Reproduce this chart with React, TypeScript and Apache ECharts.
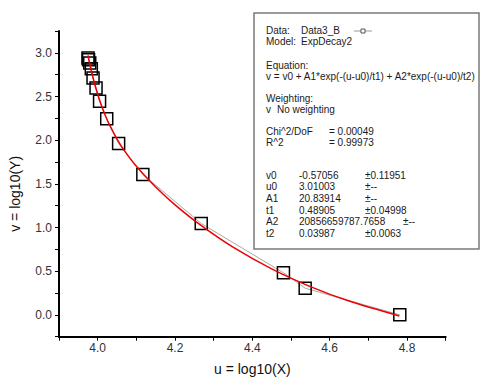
import React, { useEffect, useRef } from "react";
import * as echarts from "echarts";

// measured data points (u = log10(X), v = log10(Y))
const uData = [3.975, 3.9764, 3.9795, 3.9836, 3.988, 3.9958, 4.0049, 4.0234, 4.0542, 4.1168, 4.2678, 4.4804, 4.5366, 4.7813];
const vData = [2.941, 2.922, 2.883, 2.819, 2.712, 2.598, 2.446, 2.246, 1.961, 1.608, 1.046, 0.482, 0.305, 0.0];

// red fitted curve
const fitU = [3.975, 3.98, 3.99, 4.0, 4.01, 4.02, 4.03, 4.05, 4.07, 4.1, 4.15, 4.2, 4.27, 4.35, 4.45, 4.55, 4.65, 4.78];
const fitV = [2.97, 2.864, 2.68, 2.525, 2.394, 2.28, 2.18, 2.013, 1.874, 1.701, 1.463, 1.26, 1.015, 0.775, 0.526, 0.323, 0.158, -0.012];

const xTickLabels = ["4.0", "4.2", "4.4", "4.6", "4.8"];
const yTickLabels = ["0.0", "0.5", "1.0", "1.5", "2.0", "2.5", "3.0"];

const headerLines = [
  ["Data:", "Data3_B"],
  ["Model:", "ExpDecay2"],
];
const equationTitle = "Equation:";
const equationText = "v = v0 + A1*exp(-(u-u0)/t1) + A2*exp(-(u-u0)/t2)";
const weightingTitle = "Weighting:";
const weightingRow = ["v", "No weighting"];
const statNames = ["Chi^2/DoF", "R^2"];
const statValues = ["= 0.00049", "= 0.99973"];
const paramNames = ["v0", "u0", "A1", "t1", "A2", "t2"];
const paramValues = ["-0.57056", "3.01003", "20.83914", "0.48905", "20856659787.7658", "0.03987"];
const paramErrors = ["\u00b10.11951", "\u00b1--", "\u00b1--", "\u00b10.04998", "\u00b1--", "\u00b10.0063"];

const FONT = "'Liberation Sans', Arial, sans-serif";

function txt(text: string, x: number, y: number) {
  return {
    type: "text",
    x,
    y,
    style: { text, fontSize: 10, fontFamily: FONT, fill: "#1a1a1a", verticalAlign: "middle", align: "left" },
  };
}

export default function App() {
  const ref = useRef<HTMLDivElement>(null);
  useEffect(() => {
    if (!ref.current) return;
    const chart = echarts.init(ref.current, undefined, { renderer: "svg" });

    const graphics: any[] = [
      {
        type: "rect",
        shape: { x: 254, y: 13, width: 225, height: 236 },
        style: { fill: "#fff", stroke: "#7a7a7a", lineWidth: 1.5 },
      },
    ];
    const col1 = 266;
    headerLines.forEach((l, i) => {
      graphics.push(txt(l[0], col1, 30.7 + i * 11));
      graphics.push(txt(l[1], 301, 30.7 + i * 11));
    });
    graphics.push({ type: "line", shape: { x1: 354, y1: 31, x2: 372, y2: 31 }, style: { stroke: "#999", lineWidth: 1 } });
    graphics.push({ type: "rect", shape: { x: 361, y: 29, width: 4, height: 4 }, style: { stroke: "#555", fill: "#fff", lineWidth: 1 } });
    graphics.push(txt(equationTitle, col1, 65));
    graphics.push(txt(equationText, col1, 76));
    graphics.push(txt(weightingTitle, col1, 98.3));
    graphics.push(txt(weightingRow[0], col1, 109.3));
    graphics.push(txt(weightingRow[1], 277, 109.3));
    statNames.forEach((n, i) => {
      graphics.push(txt(n, col1, 131.7 + i * 11));
      graphics.push(txt(statValues[i], 329, 131.7 + i * 11));
    });
    paramNames.forEach((n, i) => {
      const y = 175 + i * 11.7;
      graphics.push(txt(n, col1, y));
      graphics.push(txt(paramValues[i], 299, y));
      graphics.push(txt(paramErrors[i], n === "A2" ? 403 : 365, y));
    });

    chart.setOption({
      animation: false,
      backgroundColor: "#fff",
      grid: { left: 57, right: 54.3, top: 31, bottom: 44.3 },
      xAxis: {
        type: "value",
        min: 3.9,
        max: 4.9,
        interval: 0.1,
        name: "u = log10(X)",
        nameLocation: "middle",
        nameGap: 25,
        nameTextStyle: { fontSize: 14, fontFamily: FONT, color: "#111" },
        axisLine: { show: true, onZero: false, lineStyle: { color: "#000", width: 2 } },
        axisTick: { show: true, length: 4, lineStyle: { color: "#000", width: 1 } },
        axisLabel: {
          margin: 5,
          fontSize: 12,
          fontFamily: FONT,
          color: "#333",
          formatter: (v: number) => {
            const s = v.toFixed(1);
            return xTickLabels.includes(s) ? s : "";
          },
        },
        splitLine: { show: false },
      },
      yAxis: {
        type: "value",
        min: -0.25,
        max: 3.25,
        interval: 0.25,
        name: "v = log10(Y)",
        nameLocation: "middle",
        nameRotate: 90,
        nameGap: 37,
        nameTextStyle: { fontSize: 14, fontFamily: FONT, color: "#111", padding: [0, 20, 0, 0] },
        axisLine: { show: true, onZero: false, lineStyle: { color: "#000", width: 2 } },
        axisTick: { show: true, length: 4, lineStyle: { color: "#000", width: 1 } },
        axisLabel: {
          margin: 7,
          fontSize: 12,
          fontFamily: FONT,
          color: "#333",
          formatter: (v: number) => {
            const s = v.toFixed(1);
            return Math.abs(v * 2 - Math.round(v * 2)) < 1e-6 && yTickLabels.includes(s) ? s : "";
          },
        },
        splitLine: { show: false },
      },
      graphic: graphics,
      series: [
        {
          type: "line",
          data: uData.map((u, i) => [u, vData[i]]),
          symbol: "rect",
          symbolSize: 12,
          showAllSymbol: true,
          lineStyle: { color: "#a8a8a8", width: 1 },
          itemStyle: { color: "rgba(0,0,0,0)", borderColor: "#000", borderWidth: 1.5 },
          z: 2,
        },
        {
          type: "line",
          data: fitU.map((u, i) => [u, fitV[i]]),
          symbol: "none",
          smooth: 0.3,
          lineStyle: { color: "#ee0000", width: 1.5 },
          z: 3,
        },
      ],
    });
    return () => chart.dispose();
  }, []);
  return <div ref={ref} style={{ position: "absolute", left: 0, top: 0, width: 500, height: 381 }} />;
}
